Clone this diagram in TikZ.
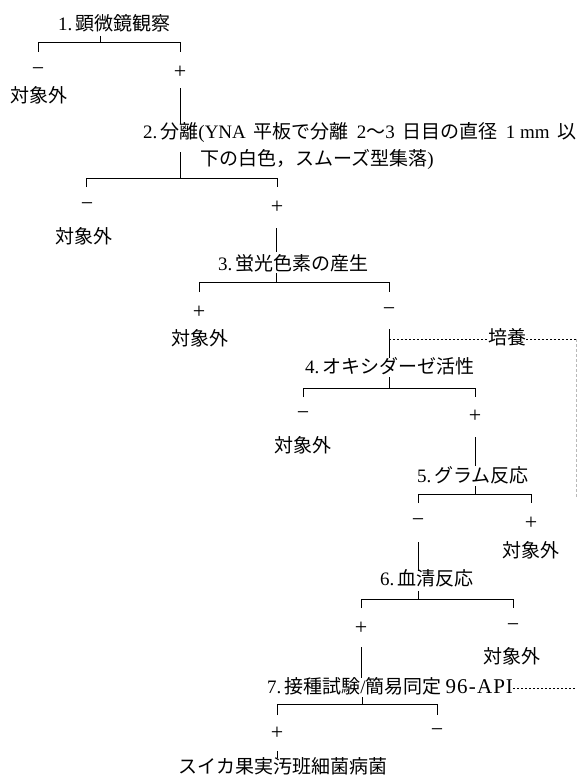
\documentclass[tikz,border=0pt]{standalone}
\usepackage{fontspec}
\setmainfont{Liberation Serif}
\newfontfamily\jpfont{Noto Sans CJK JP}
\newcommand\J[1]{{\jpfont\fontsize{19bp}{21bp}\selectfont #1}}
\newcommand\nm[1]{#1.\kern3bp}
\newcommand\gap{\hspace{8bp}}
\begin{document}
\begin{tikzpicture}[x=1bp,y=-1bp,
  lbl/.style={inner sep=0pt, anchor=west, text height=14bp, text depth=3bp, font=\fontsize{19bp}{22bp}\selectfont},
  clbl/.style={lbl, anchor=center},
  sgn/.style={inner sep=0pt, font=\fontsize{22bp}{24bp}\selectfont},
  ln/.style={line width=0.8bp, line cap=butt},
  dots/.style={line width=0.7bp, dash pattern=on 2.2bp off 1.8bp},
  gdash/.style={line width=0.7bp, draw=gray!55, dash pattern=on 3bp off 2bp}]
\useasboundingbox (0,0) rectangle (577,778);

% texts
\node[lbl] (t1) at (58,25) {\nm{1}\J{顕微鏡観察}};
\node[lbl] (t2a) at (143,133) {\nm{2}\J{分離}(YNA\gap\J{平板で分離}\gap 2\J{〜}3\gap\J{日目の直径}\gap 1 mm\gap\J{以}};
\node[lbl] (t2b) at (200,160) {\J{下の白色，スムーズ型集落})};
\node[lbl] (t3) at (218,265) {\nm{3}\J{蛍光色素の産生}};
\node[lbl] (t4) at (305,368) {\nm{4}\J{オキシダーゼ活性}};
\node[lbl] (t5) at (417,477) {\nm{5}\J{グラム反応}};
\node[lbl] (t6) at (380,580) {\nm{6}\J{血清反応}};
\node[lbl] (t7) at (267,688) {\nm{7}\J{接種試験}/\J{簡易同定}\hspace{4bp}{\fontsize{21bp}{22bp}\selectfont 9\kern1bp 6\kern1.2bp-\kern1.2bp A\kern1bp P\kern1bp I}};
\node[clbl] (fin) at (283,768) {\J{スイカ果実汚班細菌病菌}};
\node[clbl] (cul) at (507,339) {\J{培養}};

% 対象外
\node[clbl] (o1) at (39,97) {\J{対象外}};
\node[clbl] (o2) at (84,238) {\J{対象外}};
\node[clbl] (o3) at (200,340) {\J{対象外}};
\node[clbl] (o4) at (303,447) {\J{対象外}};
\node[clbl] (o5) at (531,552) {\J{対象外}};
\node[clbl] (o6) at (512,658) {\J{対象外}};

% signs
\node[sgn] (m1) at (38,72) {−};   \node[sgn] (p1) at (180,72) {+};
\node[sgn] (m2) at (87,207) {−};  \node[sgn] (p2) at (277,207) {+};
\node[sgn] (p3) at (199,312) {+}; \node[sgn] (m3) at (389,312) {−};
\node[sgn] (m4) at (303,416) {−}; \node[sgn] (p4) at (475,416) {+};
\node[sgn] (m5) at (418,523) {−}; \node[sgn] (p5) at (531,523) {+};
\node[sgn] (p6) at (361,628) {+}; \node[sgn] (m6) at (513,628) {−};
\node[sgn] (p7) at (277,733) {+}; \node[sgn] (m7) at (437,733) {−};

% bracket coordinates
\coordinate (s1) at (100,36);  \coordinate (j1) at (100,42);
\coordinate (l1) at (38,52);   \coordinate (r1) at (180,52);
\coordinate (s2) at (180,152); \coordinate (j2) at (180,178);
\coordinate (l2) at (86,187);  \coordinate (r2) at (277,187);
\coordinate (s3) at (276,273); \coordinate (j3) at (276,282);
\coordinate (l3) at (199,292); \coordinate (r3) at (389,292);
\coordinate (s4) at (389,377); \coordinate (j4) at (389,388);
\coordinate (l4) at (303,397); \coordinate (r4) at (475,397);
\coordinate (s5) at (475,486); \coordinate (j5) at (475,494);
\coordinate (l5) at (418,503); \coordinate (r5) at (531,503);
\coordinate (s6) at (418,591); \coordinate (j6) at (418,599);
\coordinate (l6) at (361,608); \coordinate (r6) at (513,608);
\coordinate (s7) at (362,697); \coordinate (j7) at (362,704);
\coordinate (l7) at (277,715); \coordinate (r7) at (437,715);

\foreach \i in {1,...,7}{
  \draw[ln] (s\i) -- (j\i);
  \draw[ln] (l\i) -- (l\i |- j\i) -- (r\i |- j\i) -- (r\i);
}

% verticals between stages
\coordinate (a1) at (180,88);  \coordinate (b1) at (180,124);
\coordinate (a2) at (276,228); \coordinate (b2) at (276,252);
\coordinate (a3) at (389,329); \coordinate (b3) at (389,358);
\coordinate (a4) at (475,437); \coordinate (b4) at (475,466);
\coordinate (a5) at (418,542); \coordinate (b5) at (418,571);
\coordinate (a6) at (361,647); \coordinate (b6) at (361,678);
\coordinate (a7) at (277,751); \coordinate (b7) at (277,758);
\foreach \i in {1,...,7}{ \draw[ln] (a\i) -- (b\i); }

% culture dotted lines
\coordinate (c0) at (389,339);
\coordinate (c1) at (577,339);
\coordinate (c2) at (576,497);
\coordinate (c3) at (577,688);
\draw[dots] (c0) -- (cul.west);
\draw[dots] (cul.east) -- (c1);
\draw[gdash] (c1 -| c2) -- (c2);
\draw[dots] (t7.east) -- (c3);
\end{tikzpicture}
\end{document}
